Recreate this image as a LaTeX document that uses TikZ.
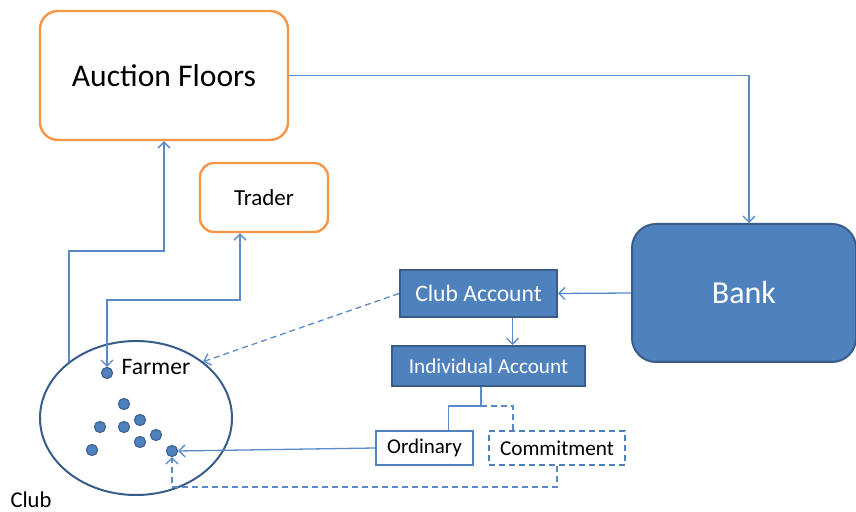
\documentclass[tikz,border=0pt]{standalone}
\usepackage{fontspec}
\setmainfont{Carlito}
\usetikzlibrary{arrows.meta,positioning,shapes.geometric,calc}
\definecolor{orng}{HTML}{F79646}
\definecolor{steel}{HTML}{4F81BD}
\definecolor{navy}{HTML}{385D8A}
\definecolor{wire}{HTML}{5A8ACA}
\tikzset{
  market/.style={rectangle,rounded corners=9pt,draw=orng,line width=1.2pt,fill=white,align=center},
  account/.style={rectangle,draw=navy,line width=1pt,fill=steel,text=white,align=center,inner sep=2pt},
  pocket/.style={rectangle,draw=steel,line width=0.7pt,fill=white,align=center,inner sep=2pt},
  member/.style={circle,draw=navy,line width=0.5pt,fill=steel,inner sep=0pt,minimum size=5.6pt},
  link/.style={wire,line width=0.65pt},
  arrow/.style={-{Straight Barb[length=3pt,width=6pt]},wire,line width=0.65pt},
  dasharrow/.style={arrow,dashed,dash pattern=on 3pt off 2pt}
}
\begin{document}
\begin{tikzpicture}[x=0.5pt,y=-0.5pt]
    \useasboundingbox (0,0) rectangle (856,512);

    \node[market,minimum width=124pt,minimum height=64.5pt,font=\fontsize{15.8}{18}\selectfont] (floors) at (164,75.5) {Auction Floors};
    \node[market,rounded corners=7pt,minimum width=64pt,minimum height=34.5pt,font=\fontsize{11.5}{14}\selectfont] (trader) at (264,197.5) {Trader};
    \node[account,rounded corners=12pt,minimum width=112pt,minimum height=69pt,font=\fontsize{16}{19}\selectfont] (bank) at (744,293) {Bank};
    \node[account,minimum width=78.5pt,minimum height=23.5pt,font=\fontsize{11.8}{14}\selectfont] (clubacc) at (478.5,293.5) {Club Account};
    \node[account,minimum width=96.5pt,minimum height=20pt,font=\fontsize{10.6}{13}\selectfont] (indacc) at (488.5,366) {Individual Account};
    \node[pocket,minimum width=48.5pt,minimum height=17pt,font=\fontsize{10.5}{13}\selectfont] (ordinary) at (424.5,448) {Ordinary};
    \node[pocket,dashed,dash pattern=on 3pt off 2pt,minimum width=68pt,minimum height=17pt,font=\fontsize{10.6}{13}\selectfont] (commit) at (557,448) {Commitment};

    % the club and its farmers
    \node[ellipse,draw=navy,line width=1pt,minimum width=96pt,minimum height=77pt] (club) at (136,418) {};
    \foreach \n/\px/\py in {1/107/373,2/124/404,3/140/420,4/100/427,5/124/427,6/156/435,7/140/442,8/92/450,9/172/451}
      \node[member] (d\n) at (\px,\py) {};
    \node[font=\fontsize{11.8}{14}\selectfont] (farmer) at (156,367) {Farmer};
    \node[font=\fontsize{11.3}{14}\selectfont,inner sep=1pt] (clublbl) at (31,500) {Club};

    \coordinate (bendA) at (164,251);
    \coordinate (bendB) at (240,300);
    \coordinate (split) at ([xshift=17pt]clubacc.south);
    \coordinate (junc) at (481,406);
    \coordinate (bendC) at (172,487);

    \draw[arrow] (floors.east) -| ([xshift=2.5pt]bank.north);
    \draw[arrow] (club.140) |- (bendA) -- (floors.south);
    \draw[arrow,{Straight Barb[length=3pt,width=6pt]}-{Straight Barb[length=3pt,width=6pt]}] (d1.north) |- (bendB) -- (bendB |- trader.south);
    \draw[arrow] (bank.west) -- (clubacc.east);
    \draw[arrow] (split) -- (split |- indacc.north);
    \draw[dasharrow] (clubacc.west) -- (club.40);
    \draw[link] (junc |- indacc.south) -- (junc) -| ([xshift=12pt]ordinary.north);
    \draw[link,dashed,dash pattern=on 3pt off 2pt] (junc) -| ([xshift=-22pt]commit.north);
    \draw[arrow] (ordinary.west) -- (d9.east);
    \draw[dasharrow] (commit.south) |- (bendC) -- (d9.south);
  \end{tikzpicture}
\end{document}
